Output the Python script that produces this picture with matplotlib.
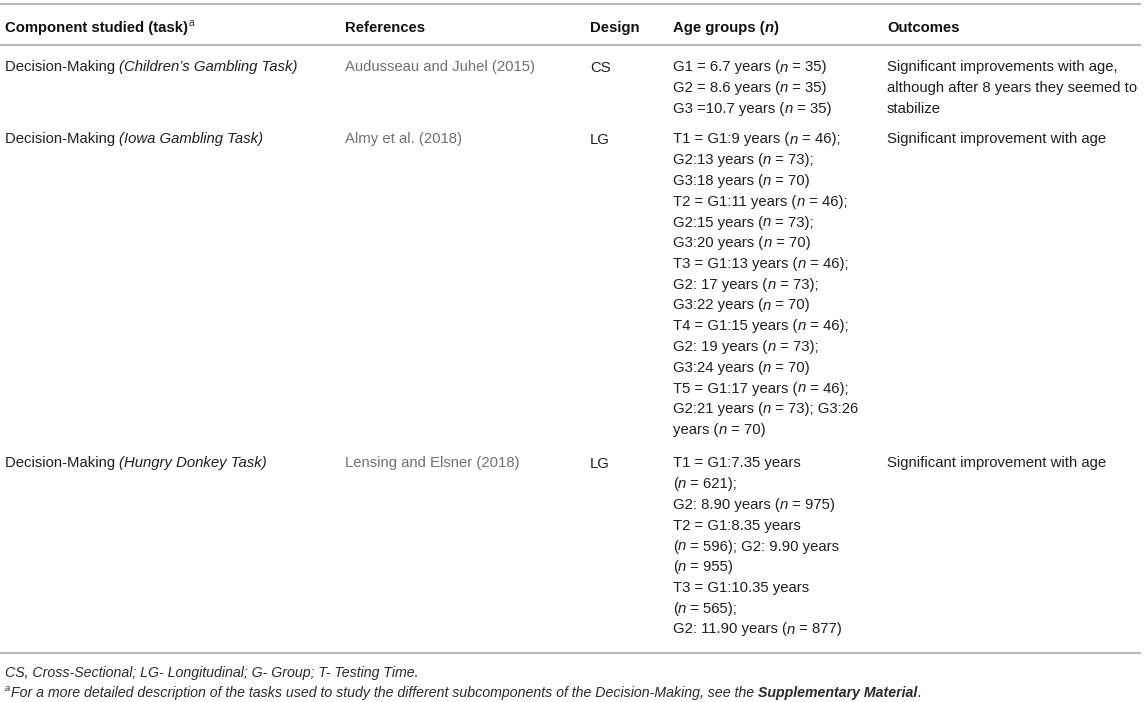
import matplotlib
matplotlib.use("Agg")
import matplotlib.pyplot as plt

FONT = "Liberation Sans"

# table content
headers = ["Component studied (task)", "References", "Design", "Age groups (_n_)", "Outcomes"]
components = ["Decision-Making", "Decision-Making", "Decision-Making"]
tasks = ["Children’s Gambling Task", "Iowa Gambling Task", "Hungry Donkey Task"]
references = ["Audusseau and Juhel (2015)", "Almy et al. (2018)", "Lensing and Elsner (2018)"]
designs = ["CS", "LG", "LG"]
age_groups = [
    ["G1 = 6.7 years (_n_ = 35)",
     "G2 = 8.6 years (_n_ = 35)",
     "G3 =10.7 years (_n_ = 35)"],
    ["T1 = G1:9 years (_n_ = 46);",
     "G2:13 years (_n_ = 73);",
     "G3:18 years (_n_ = 70)",
     "T2 = G1:11 years (_n_ = 46);",
     "G2:15 years (_n_ = 73);",
     "G3:20 years (_n_ = 70)",
     "T3 = G1:13 years (_n_ = 46);",
     "G2: 17 years (_n_ = 73);",
     "G3:22 years (_n_ = 70)",
     "T4 = G1:15 years (_n_ = 46);",
     "G2: 19 years (_n_ = 73);",
     "G3:24 years (_n_ = 70)",
     "T5 = G1:17 years (_n_ = 46);",
     "G2:21 years (_n_ = 73); G3:26",
     "years (_n_ = 70)"],
    ["T1 = G1:7.35 years",
     "(_n_ = 621);",
     "G2: 8.90 years (_n_ = 975)",
     "T2 = G1:8.35 years",
     "(_n_ = 596); G2: 9.90 years",
     "(_n_ = 955)",
     "T3 = G1:10.35 years",
     "(_n_ = 565);",
     "G2: 11.90 years (_n_ = 877)"],
]
outcomes = [
    ["Significant improvements with age,",
     "although after 8 years they seemed to",
     "stabilize"],
    ["Significant improvement with age"],
    ["Significant improvement with age"],
]
footnote_abbrev = "CS, Cross-Sectional; LG- Longitudinal; G- Group; T- Testing Time."
footnote_a = "For a more detailed description of the tasks used to study the different subcomponents of the Decision-Making, see the "
footnote_bold = "Supplementary Material"

col_x = [5, 345, 590, 673, 887]
row_top = [71.5, 143.5, 467.5]
line_h = 20.75

fig = plt.figure(figsize=(11.45, 7.02), dpi=100)
ax = fig.add_axes([0, 0, 1, 1])
ax.set_xlim(0, 1145)
ax.set_ylim(702, 0)
ax.axis("off")
renderer = fig.canvas.get_renderer()

STYLES = {
    "n": dict(fontstyle="normal", fontweight="normal"),
    "i": dict(fontstyle="italic", fontweight="normal"),
    "b": dict(fontstyle="normal", fontweight="bold"),
    "bi": dict(fontstyle="italic", fontweight="bold"),
}


def text_width(s, size, style):
    kw = dict(family=FONT, fontsize=size, **STYLES[style])
    t = ax.text(0, 0, s + "|", **kw)
    w = t.get_window_extent(renderer).width
    t.remove()
    t = ax.text(0, 0, "|", **kw)
    w -= t.get_window_extent(renderer).width
    t.remove()
    return w


def draw_runs(x, y, runs, size, color):
    for s, style in runs:
        ax.text(x, y, s, family=FONT, fontsize=size, color=color,
                va="baseline", ha="left", **STYLES[style])
        x += text_width(s, size, style)
    return x


def parse(line, base="n", alt="i"):
    parts = line.split("_")
    return [(p, base if k % 2 == 0 else alt) for k, p in enumerate(parts) if p]


BODY = 10.7
HEAD = 10.7
TEXT_C = "#1f1f1f"
REF_C = "#707070"
RULE_C = "#b8b8b8"

# rules
for yy in [4, 44.5, 652.5]:
    ax.plot([0, 1141], [yy, yy], color=RULE_C, lw=1.5, solid_capstyle="butt")

# header
hy = 32
for k, h in enumerate(headers):
    x_end = draw_runs(col_x[k], hy, parse(h, "b", "bi"), HEAD, "#111111")
    if k == 0:
        ax.text(x_end + 0.5, hy - 6, "a", family=FONT, fontsize=7.4,
                color="#333333", va="baseline")

# body rows
for r in range(len(components)):
    y0 = row_top[r]
    draw_runs(col_x[0], y0, [(components[r] + " ", "n"), ("(" + tasks[r] + ")", "i")],
              BODY, TEXT_C)
    draw_runs(col_x[1], y0, [(references[r], "n")], BODY, REF_C)
    draw_runs(col_x[2], y0, [(designs[r], "n")], BODY, TEXT_C)
    for j, line in enumerate(age_groups[r]):
        draw_runs(col_x[3], y0 + j * line_h, parse(line), BODY, TEXT_C)
    for j, line in enumerate(outcomes[r]):
        draw_runs(col_x[4], y0 + j * line_h, [(line, "n")], BODY, TEXT_C)

# footnotes
FOOT = 10.2
FOOT_C = "#2a2a2a"
draw_runs(5, 676.5, [(footnote_abbrev, "i")], FOOT, FOOT_C)
ax.text(5, 691, "a", family=FONT, fontsize=6.8, fontstyle="italic",
        color=FOOT_C, va="baseline")
draw_runs(11, 697, [(footnote_a, "i"), (footnote_bold, "bi"), (".", "i")],
          FOOT, FOOT_C)

fig.savefig("out.png", dpi=100, facecolor="white")
